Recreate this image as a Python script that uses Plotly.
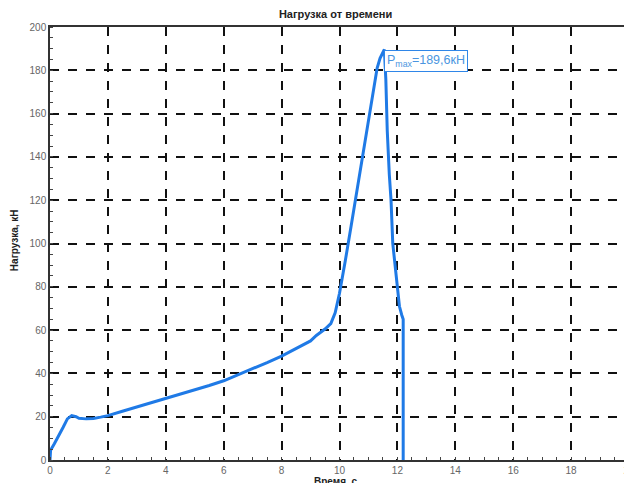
import plotly.graph_objects as go

# Time, s
time_s = [0.0, 0.02, 0.15, 0.3, 0.45, 0.6, 0.75, 0.9, 1.0, 1.25, 1.5, 1.75, 2.0, 2.5,
          3.0, 3.5, 4.0, 4.5, 5.0, 5.5, 6.0, 6.5, 7.0, 7.5, 8.0, 8.5, 9.0, 9.2, 9.5,
          9.7, 9.85, 10.0, 10.1, 10.2, 10.4, 10.6, 10.8, 11.0, 11.2, 11.3, 11.4, 11.55,
          11.6, 11.65, 11.72, 11.78, 11.84, 11.95, 12.0, 12.07, 12.15, 12.2, 12.2]
# Load, kN
load_kn = [0.0, 4.5, 7.5, 11.0, 15.0, 19.0, 20.5, 20.0, 19.3, 19.0, 19.2, 19.8, 20.5, 22.5,
           24.5, 26.3, 28.2, 30.2, 32.3, 34.4, 36.6, 39.3, 42.2, 45.0, 48.0, 51.5, 55.0, 57.5, 60.5,
           63.0, 68.0, 77.0, 84.0, 92.0, 108.0, 124.0, 141.0, 158.0, 174.0, 181.0, 185.5, 189.6,
           176.0, 152.0, 132.0, 120.0, 100.0, 86.0, 80.0, 71.0, 67.0, 65.0, 0.0]

x_ticks = list(range(0, 21, 2))
y_ticks = list(range(0, 201, 20))
peak_label = "P<sub>max</sub>=189,6кН"
peak_x, peak_y = 11.55, 189.6

fig = go.Figure()
fig.add_trace(go.Scatter(x=time_s, y=load_kn, mode="lines",
                         line=dict(color="#1f7ae6", width=3), showlegend=False,
                         hoverinfo="x+y"))

fig.add_annotation(x=peak_x, y=peak_y, xref="x", yref="y", text=peak_label,
                   showarrow=False, xanchor="left", yanchor="top",
                   font=dict(family="Arial", size=12.5, color="#4a95e0"),
                   bordercolor="#2f86e8", borderwidth=1, borderpad=2, bgcolor="white")

# axis titles as annotations for exact placement
fig.add_annotation(x=-0.062, y=0.508, xref="paper", yref="paper", text="<b>Нагрузка, кН</b>",
                   textangle=-90, showarrow=False, xanchor="center", yanchor="middle",
                   font=dict(family="Arial", size=10, color="#222222"))
fig.add_annotation(x=0.494, y=-0.05, xref="paper", yref="paper", text="<b>Время, с</b>",
                   showarrow=False, xanchor="center", yanchor="middle",
                   font=dict(family="Arial", size=10, color="#222222"))

axis_common = dict(showline=True, linecolor="#333333", linewidth=1.5, mirror=True,
                   showgrid=True, gridcolor="#111111", gridwidth=1.5, griddash="dash",
                   zeroline=False, ticks="", tickfont=dict(family="Arial", size=10, color="#666666"),
                   automargin=False, ticklabeloverflow="allow")

fig.update_xaxes(range=[0, 20], tickvals=x_ticks,
                 minor=dict(dtick=0.5, ticks="inside", ticklen=3, tickcolor="#444444", showgrid=False),
                 **axis_common)
fig.update_yaxes(range=[0, 200], tickvals=y_ticks,
                 minor=dict(dtick=5, ticks="inside", ticklen=3, tickcolor="#444444", showgrid=False),
                 **axis_common)

fig.update_layout(
    width=624, height=475,
    margin=dict(l=42, r=3, t=19, b=23),
    paper_bgcolor="white", plot_bgcolor="white",
    title=dict(text="<b>Нагрузка от времени</b>", x=0.525, xanchor="center", y=0.987, yanchor="middle",
               font=dict(family="Arial", size=11, color="#222222")),
)

fig.write_html("out.html")
